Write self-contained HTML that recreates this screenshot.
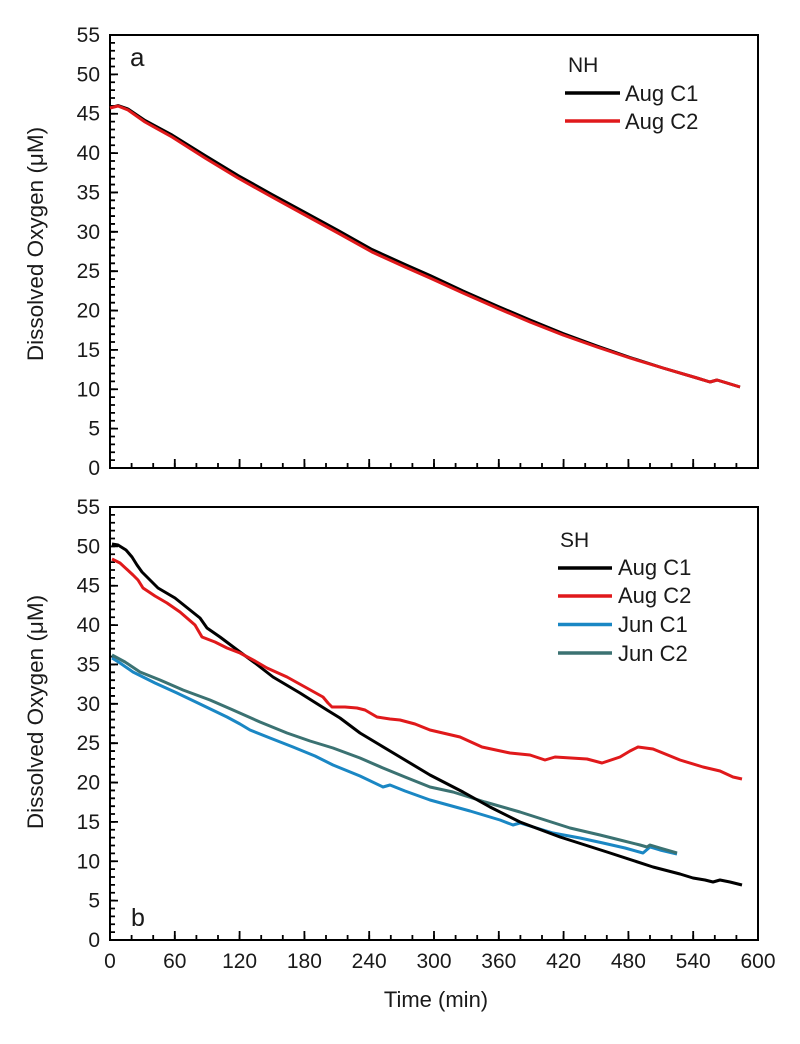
<!DOCTYPE html>
<html>
<head>
<meta charset="utf-8">
<style>
html,body{margin:0;padding:0;background:#fff;}
svg{display:block;}
text{font-family:"Liberation Sans",Arial,sans-serif;fill:#1a1a1a;}
</style>
</head>
<body>
<svg width="800" height="1044" viewBox="0 0 800 1044" xmlns="http://www.w3.org/2000/svg">
<rect x="0" y="0" width="800" height="1044" fill="#fff"/>

<!-- ============ PANEL A ============ -->
<g fill="none" stroke="#000">
  <line x1="112.5" y1="468.9" x2="112.5" y2="34" stroke-width="5" stroke-dasharray="1.8 6.0727"/>
  <line x1="114" y1="468.9" x2="114" y2="34" stroke-width="8" stroke-dasharray="1.8 37.5635"/>
  <line x1="109.1" y1="465.5" x2="760" y2="465.5" stroke-width="5" stroke-dasharray="1.8 19.8"/>
  <line x1="109.1" y1="463.5" x2="760" y2="463.5" stroke-width="9" stroke-dasharray="1.8 63"/>
  <rect x="110" y="35" width="648" height="433" stroke-width="2"/>
</g>

<g font-size="21" text-anchor="end">
  <text x="100" y="475">0</text>
  <text x="100" y="435.6">5</text>
  <text x="100" y="396.3">10</text>
  <text x="100" y="356.9">15</text>
  <text x="100" y="317.5">20</text>
  <text x="100" y="278.2">25</text>
  <text x="100" y="238.8">30</text>
  <text x="100" y="199.5">35</text>
  <text x="100" y="160.1">40</text>
  <text x="100" y="120.7">45</text>
  <text x="100" y="81.4">50</text>
  <text x="100" y="42">55</text>
</g>

<text x="0" y="0" font-size="22.5" text-anchor="middle" transform="translate(43,244) rotate(-90)">Dissolved Oxygen (μM)</text>
<text x="130" y="66" font-size="26">a</text>

<!-- legend a -->
<text x="568" y="72" font-size="21">NH</text>
<line x1="565" y1="93" x2="620" y2="93" stroke="#000" stroke-width="3.5"/>
<text x="625" y="101" font-size="22">Aug C1</text>
<line x1="565" y1="121" x2="620" y2="121" stroke="#e0191b" stroke-width="3.5"/>
<text x="625" y="129" font-size="22">Aug C2</text>

<!-- series a -->
<polyline fill="none" stroke="#000" stroke-width="3" stroke-linejoin="round"
 points="110,108 118,105.5 128,109 145,120.5 172,135 205,155.5 238,175.5 272,194.5 305,212.5 338,230.5 372,249.5 405,264.5 430,275.5 463,291 497,306 530,320 563,333.5 597,346 630,357.5 663,368 697,378 710,382 717,380 740,387"/>
<polyline fill="none" stroke="#e0191b" stroke-width="3" stroke-linejoin="round"
 points="110,108 118,106 128,110 145,122 172,137 205,158 238,178 272,197 305,215 338,233 372,252 405,267 430,278 463,293 497,308 530,322 563,335 597,347 630,358 663,368 697,378 710,382 717,380 740,387"/>

<!-- ============ PANEL B ============ -->
<g fill="none" stroke="#000">
  <line x1="112.5" y1="940.9" x2="112.5" y2="506" stroke-width="5" stroke-dasharray="1.8 6.0727"/>
  <line x1="114" y1="940.9" x2="114" y2="506" stroke-width="8" stroke-dasharray="1.8 37.5635"/>
  <line x1="109.1" y1="937.5" x2="760" y2="937.5" stroke-width="5" stroke-dasharray="1.8 19.8"/>
  <line x1="109.1" y1="935.5" x2="760" y2="935.5" stroke-width="9" stroke-dasharray="1.8 63"/>
  <rect x="110" y="507" width="648" height="433" stroke-width="2"/>
</g>

<g font-size="21" text-anchor="end">
  <text x="100" y="947">0</text>
  <text x="100" y="907.6">5</text>
  <text x="100" y="868.3">10</text>
  <text x="100" y="828.9">15</text>
  <text x="100" y="789.5">20</text>
  <text x="100" y="750.2">25</text>
  <text x="100" y="710.8">30</text>
  <text x="100" y="671.5">35</text>
  <text x="100" y="632.1">40</text>
  <text x="100" y="592.7">45</text>
  <text x="100" y="553.4">50</text>
  <text x="100" y="514">55</text>
</g>

<g font-size="21" text-anchor="middle">
  <text x="110" y="968">0</text>
  <text x="174.8" y="968">60</text>
  <text x="239.6" y="968">120</text>
  <text x="304.4" y="968">180</text>
  <text x="369.2" y="968">240</text>
  <text x="434" y="968">300</text>
  <text x="498.8" y="968">360</text>
  <text x="563.6" y="968">420</text>
  <text x="628.4" y="968">480</text>
  <text x="693.2" y="968">540</text>
  <text x="758" y="968">600</text>
</g>
<text x="436" y="1007" font-size="22" text-anchor="middle">Time (min)</text>

<text x="0" y="0" font-size="22.5" text-anchor="middle" transform="translate(43,712) rotate(-90)">Dissolved Oxygen (μM)</text>
<text x="131" y="926" font-size="25">b</text>

<!-- legend b -->
<text x="560" y="547" font-size="21">SH</text>
<line x1="558" y1="568" x2="612" y2="568" stroke="#000" stroke-width="3.5"/>
<text x="618" y="575" font-size="22">Aug C1</text>
<line x1="558" y1="596" x2="612" y2="596" stroke="#e0191b" stroke-width="3.5"/>
<text x="618" y="603" font-size="22">Aug C2</text>
<line x1="558" y1="624.5" x2="612" y2="624.5" stroke="#1a87c4" stroke-width="3.5"/>
<text x="618" y="632" font-size="22">Jun C1</text>
<line x1="558" y1="653" x2="612" y2="653" stroke="#3b7272" stroke-width="3.5"/>
<text x="618" y="661" font-size="22">Jun C2</text>

<!-- series b -->
<polyline fill="none" stroke="#1a87c4" stroke-width="3" stroke-linejoin="round"
 points="112,658 120,663 133,672 155,683 177,693 200,704 227,717 240,724 250,730 270,738 293,747 315,756 333,765 360,776 383,787 390,785 405,791 430,800 470,811 500,820 513,825 520,823 553,833 580,838 603,843 625,848 643,853 650,847 660,850 677,854"/>
<polyline fill="none" stroke="#3b7272" stroke-width="3" stroke-linejoin="round"
 points="112,655 125,662 140,672 160,680 183,690 210,700 233,710 260,722 287,733 310,741 333,748 360,758 383,768 405,777 430,787 453,792 485,802 520,812 545,820 570,828 600,835 620,840 640,845 647,847 650,845 660,848 677,853"/>
<polyline fill="none" stroke="#000" stroke-width="3" stroke-linejoin="round"
 points="112,544 118,545 126,550 132,557 137,565 142,572 150,580 158,588 175,598 190,610 200,618 207,628 220,637 240,652 255,663 273,677 300,693 327,710 340,718 360,733 380,745 400,757 430,775 463,792 490,807 520,822 560,837 607,852 653,867 680,874 693,878 705,880 713,882 720,880 730,882 742,885"/>
<polyline fill="none" stroke="#e0191b" stroke-width="3" stroke-linejoin="round"
 points="112,559 120,563 133,575 138,580 143,588 155,596 167,603 180,612 195,625 202,637 215,642 227,648 240,653 255,661 267,668 287,677 305,687 323,697 328,703 332,707 345,707 357,708 365,710 377,717 390,719 400,720 415,724 430,730 460,737 482,747 510,753 530,755 545,760 555,757 587,759 602,763 620,757 630,751 638,747 653,749 680,760 703,767 720,771 733,777 742,779"/>
</svg>
</body>
</html>
